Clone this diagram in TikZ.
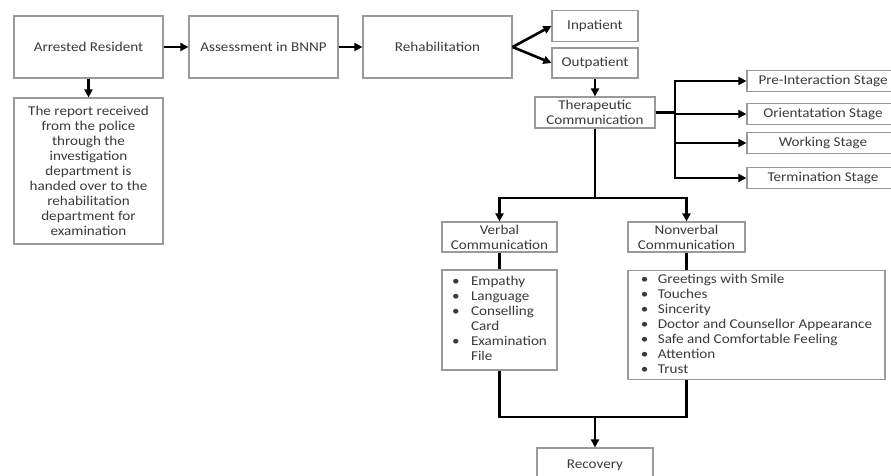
\documentclass[tikz,border=0pt]{standalone}
\usepackage{fontspec}
\setmainfont{Carlito}[FakeStretch=1.12]
\usepackage{tikz}
\usetikzlibrary{arrows.meta}
\definecolor{boxgray}{HTML}{9A9A9A}
\definecolor{textgray}{HTML}{3A3A3A}

\begin{document}
\begin{tikzpicture}[x=1pt,y=-1pt]
  \tikzstyle{BoxStyle}=[draw=boxgray,line width=1.2pt,text=textgray,align=center,inner sep=2pt,font=\fontsize{13.5}{15}\selectfont]
  \tikzstyle{EdgeStyle}=[line width=2.6pt,-{Triangle[length=8pt,width=8pt]}]
  \tikzstyle{LineStyle}=[line width=2.6pt]
  \useasboundingbox (0,0) rectangle (891,476);
  % top row
  \node[BoxStyle,minimum width=149pt,minimum height=62pt] (arr) at (88.5,47) {Arrested Resident};
  \node[BoxStyle,minimum width=149pt,minimum height=62pt] (ass) at (263.5,47) {Assessment in BNNP};
  \node[BoxStyle,minimum width=149pt,minimum height=62pt] (reh) at (437.5,47) {Rehabilitation};
  \node[BoxStyle,minimum width=149pt,minimum height=146pt] (rep) at (88.5,171)
    {The report received\\from the police\\through the\\investigation\\department is\\handed over to the\\rehabilitation\\department for\\examination};
  \node[BoxStyle,minimum width=86pt,minimum height=31pt] (inp) at (595,26) {Inpatient};
  \node[BoxStyle,minimum width=86pt,minimum height=30pt] (outp) at (595,63) {Outpatient};
  \node[BoxStyle,minimum width=120pt,minimum height=31pt] (ther) at (595,112.5) {Therapeutic\\Communication};
  % stages
  \node[BoxStyle,minimum width=152pt,minimum height=21pt] (pre) at (823,81) {Pre-Interaction Stage};
  \node[BoxStyle,minimum width=152pt,minimum height=21pt] (ori) at (823,114) {Orientatation Stage};
  \node[BoxStyle,minimum width=152pt,minimum height=21pt] (wor) at (823,143) {Working Stage};
  \node[BoxStyle,minimum width=152pt,minimum height=21pt] (ter) at (823,178) {Termination Stage};
  % communication
  \node[BoxStyle,minimum width=115pt,minimum height=30pt] (verb) at (499.5,237) {Verbal\\Communication};
  \node[BoxStyle,minimum width=117pt,minimum height=30pt] (nonv) at (686.5,237) {Nonverbal\\Communication};
  \node[BoxStyle,minimum width=115pt,minimum height=100pt] (vlist) at (499.5,320)
    {\begin{tabular}{@{}p{19pt}@{}l@{}}
     \textbullet & Empathy\\
     \textbullet & Language\\
     \textbullet & Conselling\\
                 & Card\\
     \textbullet & Examination\\
                 & File
     \end{tabular}};
  \node[BoxStyle,minimum width=257pt,minimum height=106pt] (nlist) at (756.5,325)
    {\begin{tabular}{@{}p{17pt}@{}l@{}}
     \textbullet & Greetings with Smile\\
     \textbullet & Touches\\
     \textbullet & Sincerity\\
     \textbullet & Doctor and Counsellor Appearance\\
     \textbullet & Safe and Comfortable Feeling\\
     \textbullet & Attention\\
     \textbullet & Trust
     \end{tabular}};
  \node[BoxStyle,minimum width=116pt,minimum height=34pt] (rec) at (595,465) {Recovery};
  % connectors
  \coordinate (sb) at (675,113);
  \coordinate (sp) at (595,198);
  \coordinate (jn) at (595,417);
  \draw[EdgeStyle] (arr.east) -- (ass.west);
  \draw[EdgeStyle] (ass.east) -- (reh.west);
  \draw[EdgeStyle] (arr.south) -- (rep.north);
  \draw[EdgeStyle] (reh.east) -- (inp.west);
  \draw[EdgeStyle] (reh.east) -- (outp.west);
  \draw[EdgeStyle] (outp.south) -- (ther.north);
  \foreach \s in {pre,ori,wor,ter}
    \draw[EdgeStyle] (ther.east) -- (ther.east -| sb) |- (\s.west);
  \draw[EdgeStyle] (ther.south) -- (sp) -| (verb.north);
  \draw[EdgeStyle] (ther.south) -- (sp) -| (nonv.north);
  \draw[LineStyle] (verb.south) -- (vlist.north);
  \draw[LineStyle] (nonv.south) -- (nonv.south |- nlist.north);
  \draw[LineStyle] (vlist.south) |- (jn) -| (nonv.south |- nlist.south);
  \draw[EdgeStyle] (jn) -- (rec.north);
\end{tikzpicture}
\end{document}
